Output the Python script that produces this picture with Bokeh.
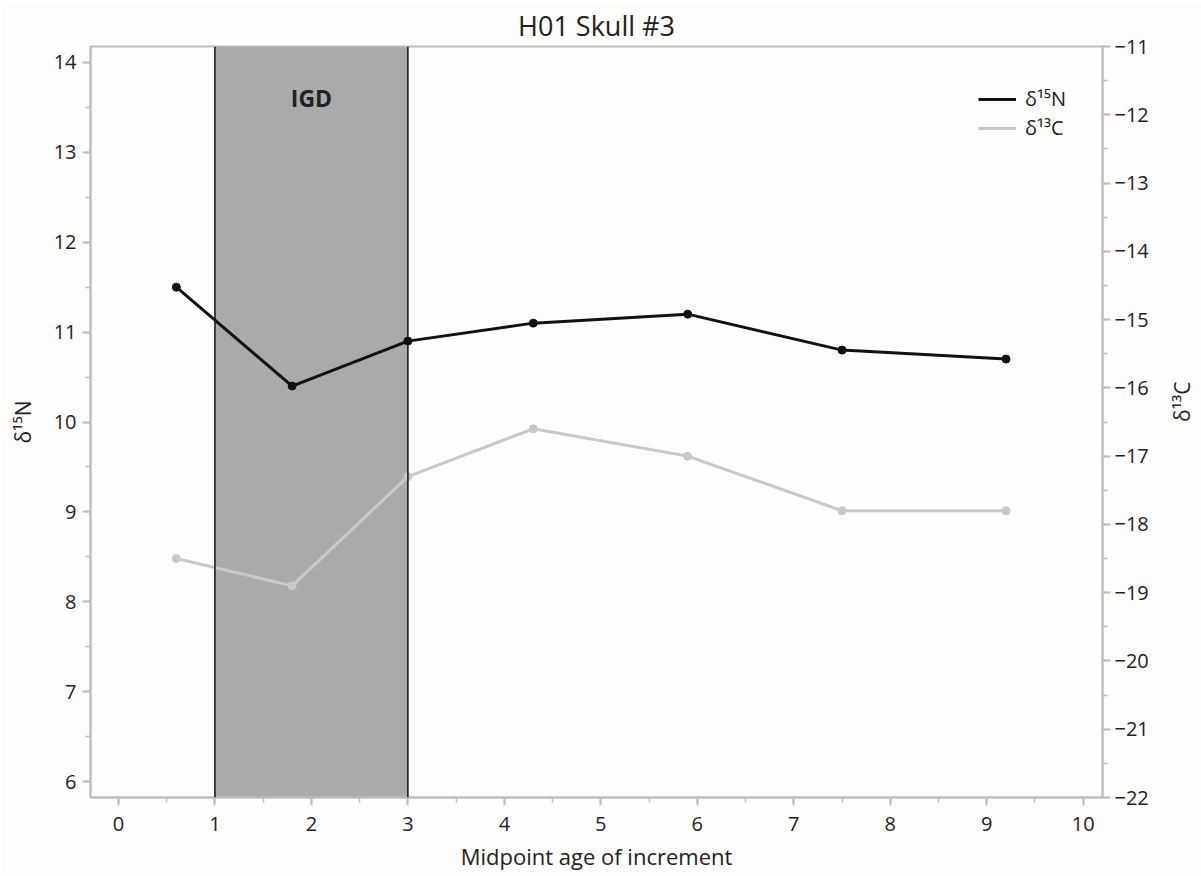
import math
from bokeh.plotting import figure
from bokeh.models import (LinearAxis, Range1d, SingleIntervalTicker, BoxAnnotation, Span,
                          Label, Legend, LegendItem, Title)
from bokeh.embed import file_html
from bokeh.resources import INLINE

# data
age = [0.6, 1.8, 3.0, 4.3, 5.9, 7.5, 9.2]
d15N = [11.5, 10.4, 10.9, 11.1, 11.2, 10.8, 10.7]
d13C = [-18.5, -18.9, -17.3, -16.6, -17.0, -17.8, -17.8]
igd_start, igd_end = 1, 3

FONT = "Open Sans"
AX = "#bdbdbd"
TXT = "#222222"

p = figure(frame_width=1012, frame_height=751, output_backend="svg", toolbar_location=None,
           x_range=Range1d(-0.29, 10.2), y_range=Range1d(5.822, 14.178),
           min_border_left=90, min_border_right=99, min_border_top=46, min_border_bottom=78)
p.extra_y_ranges = {"c": Range1d(-22, -11)}
p.background_fill_color = "#fefdfc"
p.border_fill_color = "#fefdfc"
p.grid.visible = False
p.outline_line_color = AX
p.outline_line_width = 2

p.title = Title(text="H01 Skull #3", align="center", text_font=FONT, text_font_size="27px",
                text_font_style="normal", text_color=TXT, standoff=6)

p.add_layout(BoxAnnotation(left=igd_start, right=igd_end, fill_color="#a9abaa", fill_alpha=1,
                           line_alpha=0, level="underlay"))
for xv in (igd_start, igd_end):
    p.add_layout(Span(location=xv, dimension="height", line_color="#111111", line_width=1.5))
p.add_layout(Label(x=(igd_start + igd_end) / 2, y=13.6, text="IGD", text_align="center",
                   text_baseline="middle", text_font=FONT, text_font_style="bold",
                   text_font_size="23px", text_color="#222222"))

rC = p.line(age, d13C, y_range_name="c", line_color="#c8c8c8", line_width=3)
p.scatter(age, d13C, y_range_name="c", size=8, color="#c8c8c8")
rN = p.line(age, d15N, line_color="#111111", line_width=3)
p.scatter(age, d15N, size=8, color="#111111")

def style(ax, label):
    ax.axis_label = label
    ax.axis_label_text_font = FONT
    ax.axis_label_text_font_size = "21px"
    ax.axis_label_text_font_style = "normal"
    ax.axis_label_text_color = TXT
    ax.major_label_text_font = FONT
    ax.major_label_text_font_size = "20px"
    ax.major_label_text_color = TXT
    ax.axis_line_color = AX
    ax.axis_line_width = 2
    ax.major_tick_line_color = AX
    ax.major_tick_line_width = 2
    ax.minor_tick_line_color = AX
    ax.minor_tick_line_width = 1.5
    ax.major_tick_out = 8
    ax.major_tick_in = 0
    ax.minor_tick_out = 5
    ax.minor_tick_in = 0

xa = p.xaxis[0]
xa.ticker = SingleIntervalTicker(interval=1, num_minor_ticks=2)
style(xa, "Midpoint age of increment")
xa.axis_label_text_font_size = "22px"
xa.major_label_standoff = 11
xa.axis_label_standoff = 7

ya = p.yaxis[0]
ya.ticker = SingleIntervalTicker(interval=1, num_minor_ticks=2)
style(ya, "δ¹⁵N")
ya.major_label_standoff = 6
ya.axis_label_standoff = 14

yc = LinearAxis(y_range_name="c", ticker=SingleIntervalTicker(interval=1, num_minor_ticks=2))
style(yc, "δ¹³C")
yc.major_label_standoff = 4
yc.axis_label_standoff = 30
if "axis_label_orientation" in yc.properties():
    yc.axis_label_orientation = math.pi / 2
p.add_layout(yc, "right")

legend = Legend(items=[LegendItem(label="δ¹⁵N", renderers=[rN]),
                       LegendItem(label="δ¹³C", renderers=[rC])],
                location=(888, 656), border_line_alpha=0, background_fill_alpha=0,
                label_text_font=FONT, label_text_font_size="20px", label_text_color=TXT,
                glyph_width=38, spacing=2, margin=0, padding=0, label_standoff=9,
                label_height=26, glyph_height=26)
p.add_layout(legend)

open("out.html", "w").write(file_html(p, INLINE))
